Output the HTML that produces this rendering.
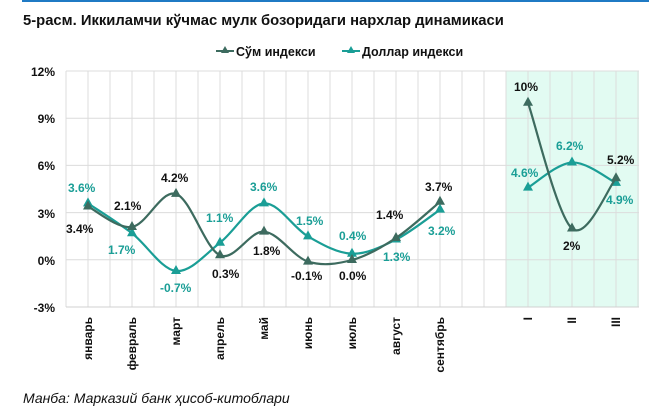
<!DOCTYPE html><html><head><meta charset="utf-8"><style>
body{margin:0;width:668px;height:415px;background:#fff;font-family:"Liberation Sans",Arial,sans-serif;overflow:hidden}
</style></head><body>
<svg width="668" height="415" xmlns="http://www.w3.org/2000/svg" font-family="Liberation Sans, Arial, sans-serif">
<rect x="22" y="0" width="627" height="2" fill="#1f7ac4"/>
<text x="23" y="25" font-size="14.8" font-weight="bold" fill="#111">5-расм. Иккиламчи кўчмас мулк бозоридаги нархлар динамикаси</text>
<g font-size="12.5" font-weight="bold" fill="#111">
<line x1="216" y1="51" x2="234" y2="51" stroke="#3d6b5f" stroke-width="2"/><polygon points="225,46 229,53 221,53" fill="#3d6b5f"/>
<text x="236" y="56">Сўм индекси</text>
<line x1="342" y1="51" x2="360" y2="51" stroke="#1a9e96" stroke-width="2"/><polygon points="351,46 355,53 347,53" fill="#1a9e96"/>
<text x="362" y="56">Доллар индекси</text>
</g>
<rect x="506" y="71" width="133" height="236" fill="#e2fbf2"/>
<g id="grid" stroke="#dcdcdc" stroke-width="1"></g>
<g font-size="12" font-weight="bold" fill="#111" text-anchor="end">
<text x="55" y="76">12%</text><text x="55" y="123">9%</text><text x="55" y="170">6%</text><text x="55" y="218">3%</text><text x="55" y="265">0%</text><text x="55" y="312">-3%</text>
</g>
<g id="series"></g>
<g font-size="12" font-weight="bold" fill="#111" id="xl"></g>
<g font-size="12" font-weight="bold">
<g fill="#111"><text x="66" y="233">3.4%</text><text x="114" y="210">2.1%</text><text x="161" y="182">4.2%</text><text x="212" y="278">0.3%</text><text x="253" y="255">1.8%</text><text x="291" y="280">-0.1%</text><text x="339" y="280">0.0%</text><text x="376" y="219">1.4%</text><text x="425" y="191">3.7%</text><text x="514" y="91">10%</text><text x="563" y="250">2%</text><text x="607" y="164">5.2%</text></g>
<g fill="#1a9e96"><text x="68" y="192">3.6%</text><text x="108" y="254">1.7%</text><text x="160" y="292">-0.7%</text><text x="206" y="222">1.1%</text><text x="250" y="191">3.6%</text><text x="296" y="225">1.5%</text><text x="339" y="240">0.4%</text><text x="383" y="261">1.3%</text><text x="428" y="235">3.2%</text><text x="511" y="177">4.6%</text><text x="556" y="150">6.2%</text><text x="606" y="204">4.9%</text></g>
</g>
<text x="23" y="403" font-size="14" font-style="italic" fill="#111">Манба: Марказий банк ҳисоб-китоблари</text>
</svg>
<script>
const NS="http://www.w3.org/2000/svg";
function el(t,a,p){const e=document.createElementNS(NS,t);for(const k in a)e.setAttribute(k,a[k]);p.appendChild(e);return e;}
const g=document.getElementById('grid');
for(let i=0;i<=6;i++){const y=71+i*236/5;if(i<6)el('line',{x1:66,x2:639,y1:y,y2:y},g);}
for(let x=66;x<=640;x+=22)el('line',{x1:x,x2:x,y1:71,y2:307},g);
el('line',{x1:66,x2:639,y1:307,y2:307,stroke:'#d0d0d0'},g);
const Y=v=>260-15.73*v;
const xs=[88,132,176,220,264,308,352,396,440],xq=[528,572,616];
const som=[3.4,2.1,4.2,0.3,1.8,-0.1,0,1.4,3.7],somq=[10,2,5.2];
const usd=[3.6,1.7,-0.7,1.1,3.6,1.5,0.4,1.3,3.2],usdq=[4.6,6.2,4.9];
function path(xa,va){const p=xa.map((x,i)=>[x,Y(va[i])]);let d=`M${p[0]}`;
for(let i=0;i<p.length-1;i++){const p0=p[i-1]||p[i],p1=p[i],p2=p[i+1],p3=p[i+2]||p2;
const c1=[p1[0]+(p2[0]-p0[0])/6,p1[1]+(p2[1]-p0[1])/6],c2=[p2[0]-(p3[0]-p1[0])/6,p2[1]-(p3[1]-p1[1])/6];
d+=` C${c1} ${c2} ${p2}`;}return [d,p];}
const s=document.getElementById('series');
[[usd,usdq,'#1a9e96'],[som,somq,'#3d6b5f']].forEach(([a,b,c])=>{
[[xs,a],[xq,b]].forEach(([xa,va])=>{const [d,p]=path(xa,va);
el('path',{d,fill:'none',stroke:c,'stroke-width':2.2},s);
p.forEach(([x,y])=>el('polygon',{points:`${x},${y-6} ${x+5},${y+3} ${x-5},${y+3}`,fill:c},s));});});
const xl=document.getElementById('xl');
const m=['январь','февраль','март','апрель','май','июнь','июль','август','сентябрь'];
m.forEach((t,i)=>{const x=xs[i]+4;const e=el('text',{x:0,y:0,'text-anchor':'end',transform:`translate(${x},317) rotate(-90)`},xl);e.textContent=t;});
['I','II','III'].forEach((t,i)=>{const x=xq[i]+4;const e=el('text',{x:0,y:0,'text-anchor':'end',transform:`translate(${x},317) rotate(-90)`},xl);e.textContent=t;});
</script>
</body></html>
